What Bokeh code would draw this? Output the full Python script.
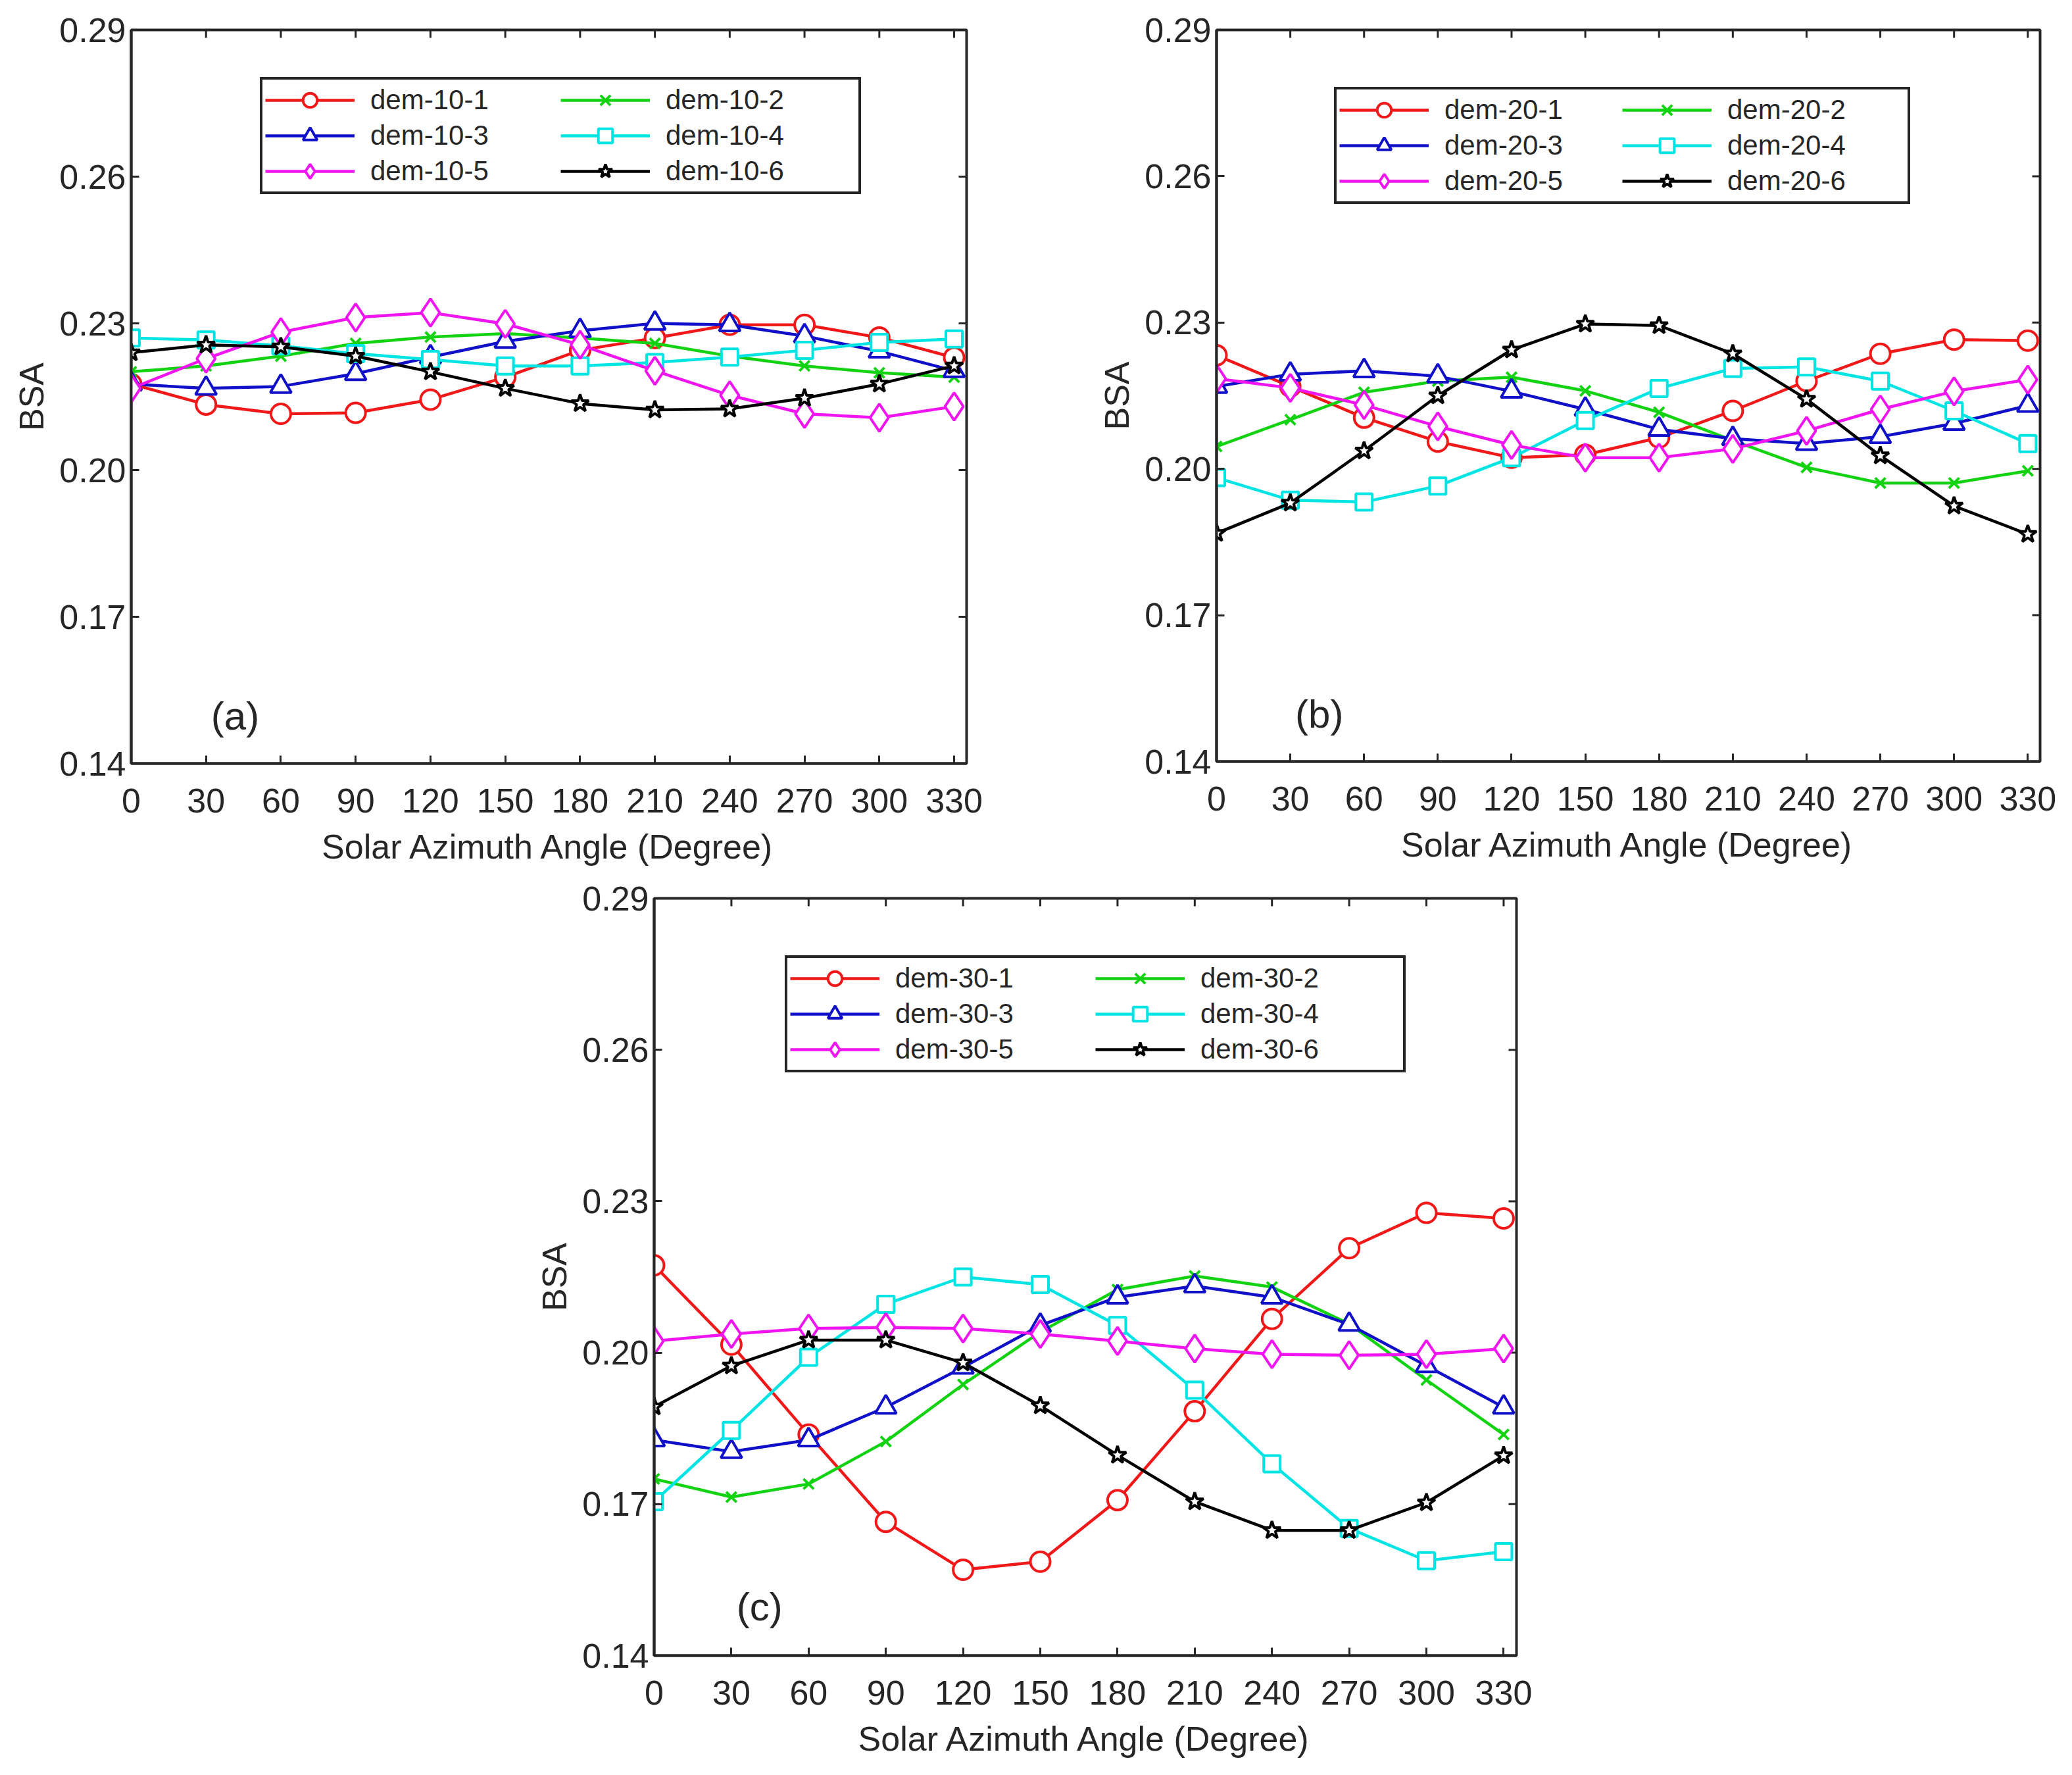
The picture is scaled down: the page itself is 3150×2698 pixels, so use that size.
import math
from bokeh.plotting import figure
from bokeh.models import (Range1d, FixedTicker, Legend, LegendItem, Label, Spacer)
from bokeh.layouts import row, column
from bokeh.embed import file_html
from bokeh.resources import INLINE

# ---------------- data ----------------
angles = [0, 30, 60, 90, 120, 150, 180, 210, 240, 270, 300, 330]
x_ticks = [0, 30, 60, 90, 120, 150, 180, 210, 240, 270, 300, 330]
y_ticks = [0.14, 0.17, 0.20, 0.23, 0.26, 0.29]
y_tick_labels = ["0.14", "0.17", "0.20", "0.23", "0.26", "0.29"]

dem10_1 = [0.2176, 0.2134, 0.2115, 0.2117, 0.2144, 0.2190, 0.2245, 0.2270, 0.2297, 0.2297, 0.2271, 0.2230]
dem10_2 = [0.2201, 0.2213, 0.2233, 0.2259, 0.2272, 0.2279, 0.2270, 0.2259, 0.2233, 0.2213, 0.2199, 0.2190]
dem10_3 = [0.2176, 0.2167, 0.2171, 0.2197, 0.2231, 0.2263, 0.2285, 0.2300, 0.2297, 0.2274, 0.2243, 0.2203]
dem10_4 = [0.2270, 0.2266, 0.2254, 0.2238, 0.2226, 0.2213, 0.2213, 0.2220, 0.2231, 0.2245, 0.2261, 0.2268]
dem10_5 = [0.2167, 0.2228, 0.2282, 0.2312, 0.2322, 0.2299, 0.2256, 0.2203, 0.2153, 0.2115, 0.2107, 0.2130]
dem10_6 = [0.2240, 0.2256, 0.2252, 0.2233, 0.2201, 0.2167, 0.2136, 0.2123, 0.2125, 0.2147, 0.2176, 0.2213]

dem20_1 = [0.2233, 0.2169, 0.2105, 0.2056, 0.2023, 0.2029, 0.2064, 0.2119, 0.2180, 0.2236, 0.2265, 0.2263]
dem20_2 = [0.2046, 0.2101, 0.2157, 0.2180, 0.2188, 0.2160, 0.2116, 0.2058, 0.2003, 0.1971, 0.1971, 0.1996]
dem20_3 = [0.2169, 0.2194, 0.2201, 0.2190, 0.2159, 0.2122, 0.2081, 0.2062, 0.2052, 0.2066, 0.2093, 0.2130]
dem20_4 = [0.1982, 0.1936, 0.1932, 0.1965, 0.2023, 0.2099, 0.2165, 0.2206, 0.2209, 0.2180, 0.2119, 0.2052]
dem20_5 = [0.2185, 0.2166, 0.2131, 0.2087, 0.2049, 0.2023, 0.2023, 0.2041, 0.2078, 0.2122, 0.2159, 0.2183]
dem20_6 = [0.1868, 0.1930, 0.2037, 0.2150, 0.2244, 0.2297, 0.2294, 0.2236, 0.2143, 0.2027, 0.1924, 0.1866]

dem30_1 = [0.2173, 0.2016, 0.1838, 0.1665, 0.1570, 0.1586, 0.1708, 0.1884, 0.2067, 0.2207, 0.2277, 0.2266]
dem30_2 = [0.1750, 0.1714, 0.1740, 0.1824, 0.1937, 0.2041, 0.2125, 0.2152, 0.2130, 0.2057, 0.1946, 0.1838]
dem30_3 = [0.1827, 0.1804, 0.1827, 0.1892, 0.1971, 0.2054, 0.2110, 0.2132, 0.2110, 0.2056, 0.1974, 0.1892]
dem30_4 = [0.1705, 0.1846, 0.1991, 0.2096, 0.2150, 0.2135, 0.2054, 0.1926, 0.1780, 0.1652, 0.1588, 0.1606]
dem30_5 = [0.2023, 0.2037, 0.2048, 0.2050, 0.2048, 0.2037, 0.2023, 0.2008, 0.1997, 0.1995, 0.1997, 0.2008]
dem30_6 = [0.1893, 0.1974, 0.2025, 0.2025, 0.1980, 0.1895, 0.1797, 0.1705, 0.1648, 0.1648, 0.1703, 0.1796]

panel_a_names = ["dem-10-1", "dem-10-2", "dem-10-3", "dem-10-4", "dem-10-5", "dem-10-6"]
panel_b_names = ["dem-20-1", "dem-20-2", "dem-20-3", "dem-20-4", "dem-20-5", "dem-20-6"]
panel_c_names = ["dem-30-1", "dem-30-2", "dem-30-3", "dem-30-4", "dem-30-5", "dem-30-6"]

# ---------------- styles ----------------
FONT = "Liberation Sans"
TXT = "#262626"
series_style = [
    dict(color="#f01818", marker="circle", size=30),
    dict(color="#12d212", marker="x", size=22),
    dict(color="#1010c8", marker="triangle", size=32),
    dict(color="#00e4e4", marker="square", size=25),
    dict(color="#f014f0", marker="diamond", size=42),
    dict(color="#000000", marker="star", size=28),
]


def make_panel(series, names, letter, fw, fh, mb, legend_loc, label_w):
    xr = Range1d(0, 335)
    yr = Range1d(0.14, 0.29)
    p = figure(frame_width=fw, frame_height=fh, x_range=xr, y_range=yr,
               output_backend="svg", toolbar_location=None,
               min_border_left=mb[0], min_border_right=mb[1],
               min_border_top=mb[2], min_border_bottom=mb[3],
               background_fill_color="white", border_fill_color="white")
    p.xgrid.visible = False
    p.ygrid.visible = False
    p.outline_line_color = TXT
    p.outline_line_width = 4

    for ax in (p.xaxis[0], p.yaxis[0]):
        ax.major_tick_in = 12
        ax.major_tick_out = 0
        ax.minor_tick_line_color = None
        ax.axis_line_color = TXT
        ax.axis_line_width = 4
        ax.major_tick_line_color = TXT
        ax.major_tick_line_width = 3
        ax.major_label_text_font = FONT
        ax.major_label_text_font_size = "52px"
        ax.major_label_text_color = TXT
        ax.axis_label_text_font = FONT
        ax.axis_label_text_font_size = "52px"
        ax.axis_label_text_font_style = "normal"
        ax.axis_label_text_color = TXT
    p.xaxis.ticker = FixedTicker(ticks=x_ticks)
    p.yaxis.ticker = FixedTicker(ticks=y_ticks)
    p.yaxis.major_label_overrides = {t: l for t, l in zip(y_ticks, y_tick_labels)}
    p.xaxis.axis_label = "Solar Azimuth Angle (Degree)"
    p.yaxis.axis_label = "BSA"
    p.xaxis.major_label_standoff = 38
    p.xaxis.axis_label_standoff = 20
    p.yaxis.major_label_standoff = 8
    p.yaxis.axis_label_standoff = 10

    # mirrored inward ticks on top and right edges (half of each dash is clipped by the frame)
    p.scatter(x_ticks, [yr.end] * len(x_ticks), marker="dash", size=24, angle=math.pi / 2,
              line_color=TXT, line_width=3)
    p.scatter([xr.end] * len(y_ticks), y_ticks, marker="dash", size=24,
              line_color=TXT, line_width=3)

    items = []
    for ys, nm, st in zip(series, names, series_style):
        ln = p.line(angles, ys, line_color=st["color"], line_width=4.5)
        sc = p.scatter(angles, ys, marker=st["marker"], size=st["size"],
                       line_color=st["color"], fill_color="white", line_width=4)
        items.append(LegendItem(label=nm, renderers=[ln, sc]))

    leg = Legend(items=items, location=legend_loc, orientation="horizontal", ncols=2,
                 label_text_font=FONT, label_text_font_size="42px", label_text_color=TXT,
                 glyph_width=136, glyph_height=54, label_height=40, label_width=label_w,
                 label_standoff=24, spacing=0, padding=4, margin=0,
                 border_line_color=TXT, border_line_width=4, border_line_alpha=1.0,
                 background_fill_color="white", background_fill_alpha=1.0)
    p.add_layout(leg, "center")

    p.add_layout(Label(x=32, y=0.1497, text=letter, text_font=FONT, text_font_size="60px",
                       text_color=TXT, text_baseline="middle", text_align="left"))
    return p


pa = make_panel([dem10_1, dem10_2, dem10_3, dem10_4, dem10_5, dem10_6], panel_a_names, "(a)",
                1270, 1115, (199, 180, 38, 180), (196, 865), 289)
pb = make_panel([dem20_1, dem20_2, dem20_3, dem20_4, dem20_5, dem20_6], panel_b_names, "(b)",
                1252, 1112, (200, 30, 45, 176), (179, 847), 270)
pc = make_panel([dem30_1, dem30_2, dem30_3, dem30_4, dem30_5, dem30_6], panel_c_names, "(c)",
                1311, 1151, (200, 60, 32, 160), (199, 886), 304)

layout = column(row(pa, pb), row(Spacer(width=794, height=10), pc))

open("out.html", "w").write(file_html(layout, INLINE))
